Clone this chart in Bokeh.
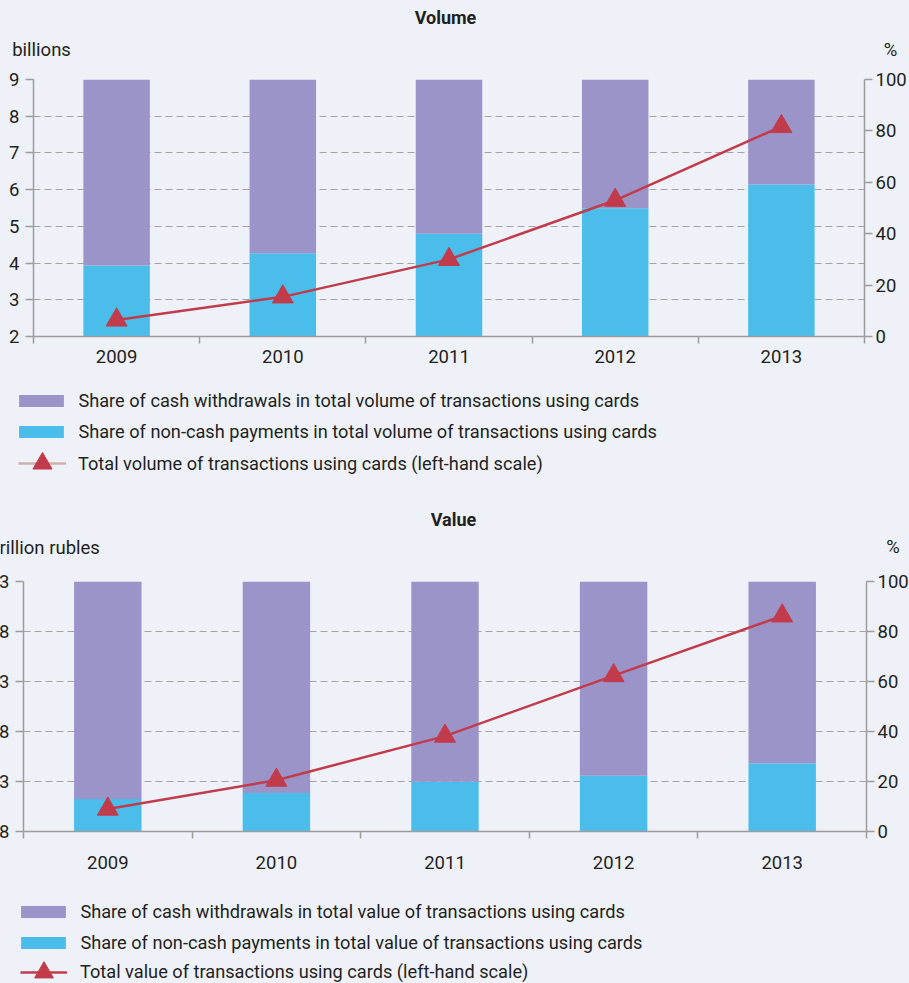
from bokeh.plotting import figure
from bokeh.models import (Range1d, LinearAxis, FixedTicker, Label, Legend,
                          LegendItem, ColumnDataSource)
from bokeh.embed import file_html
from bokeh.resources import INLINE

# ---------------- data ----------------
years = ["2009", "2010", "2011", "2012", "2013"]

vol_noncash = [27.6, 32.4, 40.0, 49.9, 59.1]   # % share of non-cash payments (volume)
vol_cash = [72.4, 67.6, 60.0, 50.1, 40.9]      # % share of cash withdrawals (volume)
vol_total = [2.45, 3.08, 4.10, 5.71, 7.72]     # billions of transactions

val_noncash = [13.0, 15.4, 19.9, 22.3, 27.3]   # % share of non-cash payments (value)
val_cash = [87.0, 84.6, 80.1, 77.7, 72.7]      # % share of cash withdrawals (value)
val_total = [10.24, 13.13, 17.54, 23.59, 29.56]  # trillion rubles

vol_left_ticks = [2, 3, 4, 5, 6, 7, 8, 9]
val_left_ticks = [8, 13, 18, 23, 28, 33]
pct_ticks = [0, 20, 40, 60, 80, 100]

vol_labels = ["Share of cash withdrawals in total volume of transactions using cards",
              "Share of non-cash payments in total volume of transactions using cards",
              "Total volume of transactions using cards (left-hand scale)"]
val_labels = ["Share of cash withdrawals in total value of transactions using cards",
              "Share of non-cash payments in total value of transactions using cards",
              "Total value of transactions using cards (left-hand scale)"]

# ---------------- style ----------------
BG = "#EEF1F8"
PURPLE = "#9B94C8"
BLUE = "#4BBDEB"
RED = "#C23B4B"
PALE = "#CDB0AC"
GRID = "#A3A3A3"
AXIS = "#9C9C9C"
TXT = "#231F20"
FONT = "Roboto"
FS = "18.5px"
LFS = "18.2px"


def blank(W, H):
    f = figure(width=W, height=H, output_backend="svg", toolbar_location=None,
               x_axis_type=None, y_axis_type=None, x_range=Range1d(0, 1),
               y_range=Range1d(0, 1), min_border=0,
               min_border_left=0, min_border_right=0, min_border_top=0,
               min_border_bottom=0)
    f.background_fill_color = BG
    f.border_fill_color = BG
    f.outline_line_color = None
    f.grid.visible = False
    return f


def header(W, H, title, title_xy, unit, unit_xy, pct_xy):
    h = blank(W, H)
    h.add_layout(Label(x=title_xy[0], y=title_xy[1], x_units="canvas", y_units="canvas",
                       text=title, text_font=FONT, text_font_size="18px",
                       text_font_style="bold", text_color=TXT,
                       text_align="center", text_baseline="middle"))
    h.add_layout(Label(x=unit_xy[0], y=unit_xy[1], x_units="canvas", y_units="canvas",
                       text=unit, text_font=FONT, text_font_size=FS,
                       text_color=TXT, text_align="left", text_baseline="middle"))
    h.add_layout(Label(x=pct_xy[0], y=pct_xy[1], x_units="canvas", y_units="canvas",
                       text="%", text_font=FONT, text_font_size=FS,
                       text_color=TXT, text_align="center", text_baseline="middle"))
    return h


def chart(left_ticks, noncash, cash, total, W, H, bl, br, bt, bb, xstand):
    p = figure(width=W, height=H, output_backend="svg", toolbar_location=None,
               x_range=Range1d(0, len(years)),
               y_range=Range1d(left_ticks[0], left_ticks[-1]),
               min_border_left=bl, min_border_right=br,
               min_border_top=bt, min_border_bottom=bb)
    p.background_fill_color = BG
    p.border_fill_color = BG
    p.outline_line_color = None
    p.extra_y_ranges = {"pct": Range1d(0, 100)}

    xs = [i + 0.5 for i in range(len(years))]
    src = ColumnDataSource(dict(x=xs, noncash=noncash, cash=cash, total=total))
    p.vbar_stack(["noncash", "cash"], x="x", width=0.4, source=src,
                 fill_color=[BLUE, PURPLE], line_color=None, y_range_name="pct")
    p.line("x", "total", source=src, line_color=RED, line_width=2.5)
    p.scatter("x", "total", source=src, marker="triangle", size=21,
              fill_color=RED, line_color=RED)

    xa = p.xaxis[0]
    xa.ticker = FixedTicker(ticks=xs, minor_ticks=list(range(len(years) + 1)))
    xa.major_label_overrides = {x: y for x, y in zip(xs, years)}
    xa.major_tick_out = 0
    xa.major_tick_in = 0
    xa.minor_tick_out = 7
    xa.minor_tick_in = 0
    xa.minor_tick_line_color = AXIS
    xa.minor_tick_line_width = 1.5
    xa.major_label_standoff = xstand

    ya = p.yaxis[0]
    ya.ticker = FixedTicker(ticks=left_ticks)
    ya.major_label_standoff = 6

    ra = LinearAxis(y_range_name="pct", ticker=FixedTicker(ticks=pct_ticks))
    ra.major_label_standoff = 3
    p.add_layout(ra, "right")

    for ax in (ya, ra):
        ax.major_tick_out = 8
        ax.major_tick_in = 0
        ax.minor_tick_out = 0
        ax.minor_tick_in = 0
        ax.major_tick_line_color = AXIS
        ax.major_tick_line_width = 1.5
    for ax in (xa, ya, ra):
        ax.axis_line_color = AXIS
        ax.axis_line_width = 1.5
        ax.major_label_text_font = FONT
        ax.major_label_text_font_size = FS
        ax.major_label_text_color = TXT

    p.xgrid.visible = False
    p.ygrid.grid_line_color = GRID
    p.ygrid.grid_line_dash = "7 4"
    p.ygrid.grid_line_width = 1
    return p


def legend_fig(W, H, labels, noncash, cash, total, line_color, posA, posB, gwB, stB):
    f = blank(W, H)
    xs = [i + 0.5 for i in range(len(years))]
    src = ColumnDataSource(dict(x=xs, noncash=noncash, cash=cash, total=total))
    # legend key renderers (hidden in this strip, shown only as legend keys)
    r_cash = f.vbar(x="x", top="cash", width=0.4, source=src,
                    fill_color=PURPLE, line_color=None, visible=False)
    r_non = f.vbar(x="x", top="noncash", width=0.4, source=src,
                   fill_color=BLUE, line_color=None, visible=False)
    r_ln = f.line(x="x", y="total", source=src, line_color=line_color,
                  line_width=2.5, visible=False)
    r_mk = f.scatter(x="x", y="total", source=src, marker="triangle",
                     fill_color=RED, line_color=RED, visible=False)
    common = dict(padding=0, margin=0, border_line_alpha=0, background_fill_alpha=0,
                  inactive_fill_alpha=0,
                  label_text_font=FONT, label_text_font_size=LFS,
                  label_text_color=TXT, orientation="vertical")
    legA = Legend(items=[LegendItem(label=labels[0], renderers=[r_cash]),
                         LegendItem(label=labels[1], renderers=[r_non])],
                  location=posA, glyph_width=56, glyph_height=15, label_height=15,
                  label_standoff=9, spacing=10, **common)
    legB = Legend(items=[LegendItem(label=labels[2], renderers=[r_ln, r_mk])],
                  location=posB, glyph_width=gwB, glyph_height=48, label_height=15,
                  label_standoff=stB, spacing=0, **common)
    f.add_layout(legA)
    f.add_layout(legB)
    return f


# ---- top block (Volume) ----
h1 = header(909, 62, "Volume", (445, 16.5), "billions", (11.7, 49), (890, 49.5))
c1 = chart(vol_left_ticks, vol_noncash, vol_cash, vol_total,
           W=909, H=312, bl=33, br=45, bt=17, bb=38, xstand=6)
l1 = legend_fig(909, 116, vol_labels, vol_noncash, vol_cash, vol_total, PALE,
                posA=(13.4, 48), posB=(18, 2.7), gwB=48, stB=12)

# ---- bottom block (Value) ----
h2 = header(909, 75, "Value", (453, 28.7), "trillion rubles", (-7, 57.5), (892.5, 56))
c2 = chart(val_left_ticks, val_noncash, val_cash, val_total,
           W=928, H=315, bl=40, br=45, bt=16, bb=49, xstand=17)
c2.margin = (0, 0, 0, -17)
l2 = legend_fig(909, 103, val_labels, val_noncash, val_cash, val_total, RED,
                posA=(15.4, 30), posB=(20, -12.7), gwB=47, stB=13)

roots = [h1, c1, l1, h2, c2, l2]
html = file_html(roots, INLINE, title="Card transactions")
html = html.replace("<body>", '<body style="margin:0;background:%s;overflow:hidden">' % BG)
open("out.html", "w").write(html)
